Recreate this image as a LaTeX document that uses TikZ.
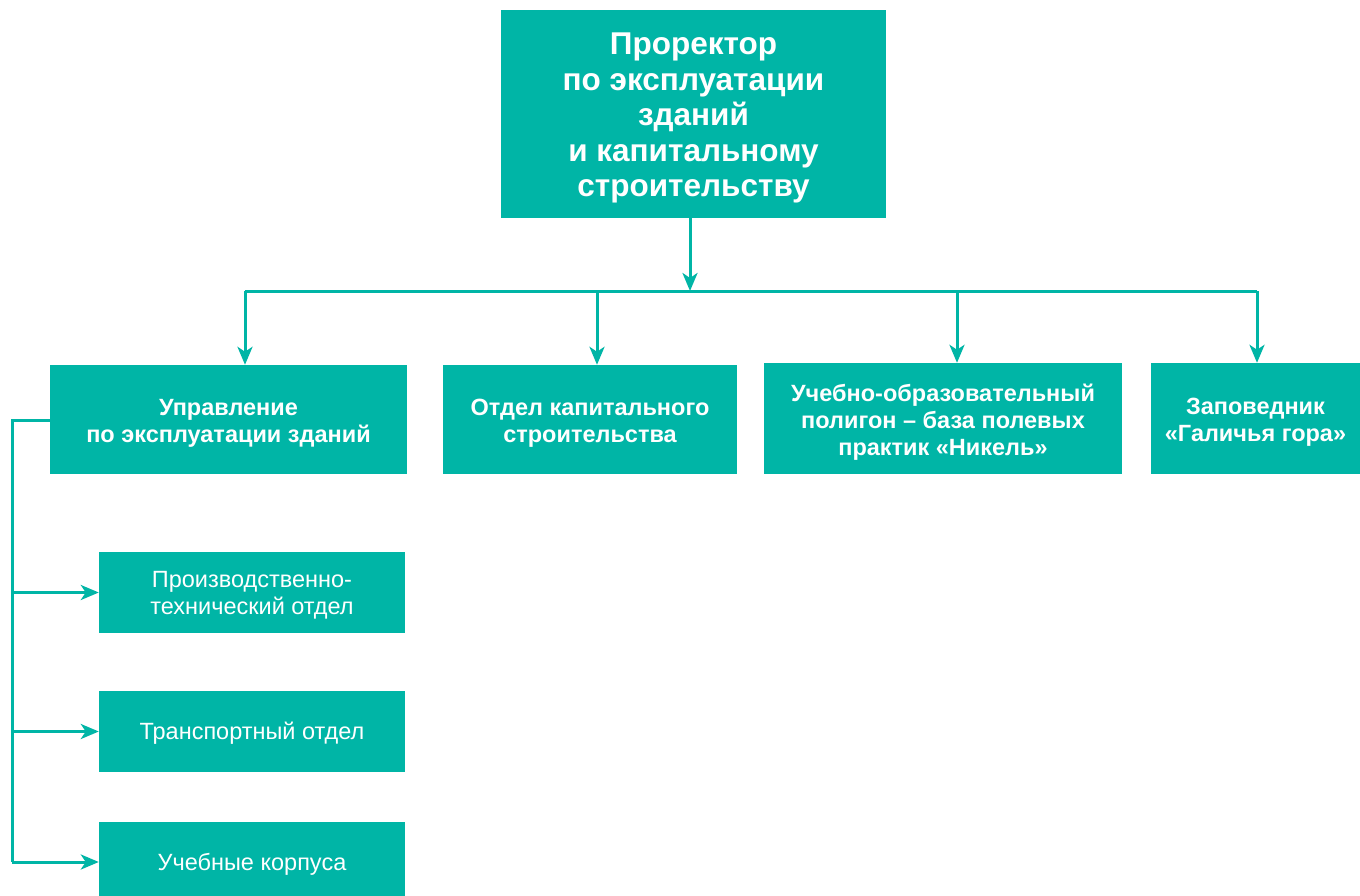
\documentclass[tikz,border=0pt]{standalone}
\usepackage{fontspec}
\setmainfont{Liberation Sans}
\usetikzlibrary{arrows.meta}
\definecolor{teal1}{RGB}{0,181,166}
\begin{document}
\begin{tikzpicture}[x=1pt,y=-1pt,
  box/.style={fill=teal1,draw=none,inner sep=0pt},
  txt/.style={text=white,align=center,inner sep=0pt},
  head/.style={txt,font=\bfseries\fontsize{31.5}{35.5}\selectfont},
  mid/.style={txt,font=\bfseries\fontsize{23.5}{27}\selectfont},
  sub/.style={txt,font=\fontsize{23.5}{27}\selectfont},
  conn/.style={draw=teal1,line width=3pt},
  arr/.style={conn,-{Stealth[length=18pt,width=15pt,inset=5pt]}}]
\useasboundingbox (0,0) rectangle (1360,896);
\path[fill=white] (0,0) rectangle (1360,896);
\node[box,minimum width=385pt,minimum height=208pt,label={[head,yshift=-4pt]center:{Проректор\\по эксплуатации\\зданий\\и капитальному\\строительству}}] (top) at (693.5,114) {};
\node[box,minimum width=357pt,minimum height=109pt,label={[mid,yshift=-3.5pt]center:{Управление\\по эксплуатации зданий}}] (b1) at (228.5,419.5) {};
\node[box,minimum width=294pt,minimum height=109pt,label={[mid,yshift=-3.5pt]center:{Отдел капитального\\строительства}}] (b2) at (590,419.5) {};
\node[box,minimum width=358pt,minimum height=111pt,label={[mid,yshift=-3.5pt]center:{Учебно-образовательный\\полигон – база полевых\\практик «Никель»}}] (b3) at (943,418.5) {};
\node[box,minimum width=209pt,minimum height=111pt,label={[mid,yshift=-3.5pt]center:{Заповедник\\«Галичья гора»}}] (b4) at (1255.5,418.5) {};
\node[box,minimum width=306pt,minimum height=81pt,label={[sub,yshift=-3pt]center:{Производственно-\\технический отдел}}] (s1) at (252,592.5) {};
\node[box,minimum width=306pt,minimum height=81pt,label={[sub,yshift=-2pt]center:{Транспортный отдел}}] (s2) at (252,731.5) {};
\node[box,minimum width=306pt,minimum height=80pt,label={[sub,yshift=-2pt]center:{Учебные корпуса}}] (s3) at (252,862) {};
\coordinate (bus) at (690,291);
\coordinate (busL) at (245,291);
\coordinate (busR) at (1257,291);
\coordinate (bx2) at (597,291);
\coordinate (bx3) at (957,291);
\coordinate (lft) at (12,420);
\draw[arr] (top.south -| bus) -- (bus);
\draw[conn] (busL) -- (busR);
\draw[arr] (busL) -- (busL |- b1.north);
\draw[arr] (bx2) -- (bx2 |- b2.north);
\draw[arr] (bx3) -- (bx3 |- b3.north);
\draw[arr] (busR) -- (busR |- b4.north);
\draw[conn] (b1.west |- lft) -- (lft) -- (lft |- s3.west);
\draw[arr] (lft |- s1.west) -- (s1.west);
\draw[arr] (lft |- s2.west) -- (s2.west);
\draw[arr] (lft |- s3.west) -- (s3.west);
\end{tikzpicture}
\end{document}
